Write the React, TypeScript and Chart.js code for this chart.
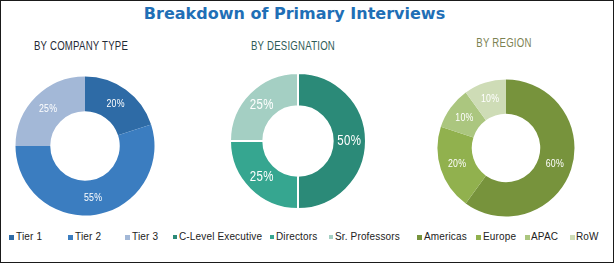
import React, { useEffect, useRef } from "react";
import { Chart, registerables } from "chart.js";

Chart.register(...registerables);

// ---- data ----
const titleText = "Breakdown of Primary Interviews";

const companyTitle = "BY COMPANY TYPE";
const companyLabels = ["Tier 1", "Tier 2", "Tier 3"];
const companyValues = [20, 55, 25];
const companyColors = ["#2e6ba6", "#3b7dc0", "#a3b8d7"];

const designationTitle = "BY DESIGNATION";
const designationLabels = ["C-Level Executive", "Directors", "Sr. Professors"];
const designationValues = [50, 25, 25];
const designationColors = ["#2b8a78", "#36a690", "#a4cfc3"];

const regionTitle = "BY REGION";
const regionLabels = ["Americas", "Europe", "APAC", "RoW"];
const regionValues = [60, 20, 10, 10];
const regionColors = ["#77933c", "#91b14e", "#abc67f", "#cedcb6"];

// ---- layout ----
const SANS = "'Liberation Sans', Arial, sans-serif";

const sliceLabelPlugin = {
  id: "sliceLabels",
  afterDatasetsDraw(chart: any, _args: any, opts: any) {
    const { ctx } = chart;
    const meta = chart.getDatasetMeta(0);
    const data = chart.data.datasets[0].data;
    meta.data.forEach((arc: any, i: number) => {
      const p = arc.tooltipPosition(false);
      ctx.save();
      ctx.fillStyle = "#ffffff";
      ctx.font = opts.font;
      if ("letterSpacing" in ctx) (ctx as any).letterSpacing = opts.letterSpacing || "0px";
      ctx.textAlign = "center";
      ctx.textBaseline = "middle";
      ctx.translate(p.x, p.y);
      ctx.scale(opts.scaleX || 1, 1);
      ctx.fillText(data[i] + "%", 0, 0);
      ctx.restore();
    });
  },
};

type DonutProps = {
  labels: string[];
  values: number[];
  colors: string[];
  cx: number;
  cy: number;
  r: number;
  cutout: string;
  borderWidth: number;
  labelFont: string;
  letterSpacing: string;
  scaleX: number;
};

function Donut(p: DonutProps) {
  const ref = useRef<HTMLCanvasElement>(null);
  const size = 2 * Math.ceil(p.r) + 6;
  useEffect(() => {
    if (!ref.current) return;
    const chart = new Chart(ref.current, {
      type: "doughnut",
      data: {
        labels: p.labels,
        datasets: [
          {
            data: p.values,
            backgroundColor: p.colors,
            borderColor: "#ffffff",
            borderWidth: p.borderWidth,
          },
        ],
      },
      options: {
        responsive: false,
        animation: false,
        radius: p.r,
        cutout: p.cutout,
        layout: { padding: 0 },
        plugins: {
          legend: { display: false },
          tooltip: { enabled: false },
          sliceLabels: { font: p.labelFont, letterSpacing: p.letterSpacing, scaleX: p.scaleX },
        } as any,
      } as any,
      plugins: [sliceLabelPlugin],
    });
    if ((document as any).fonts && (document as any).fonts.ready) {
      (document as any).fonts.ready.then(() => {
        try { chart.draw(); } catch (e) {}
      });
    }
    return () => chart.destroy();
  }, []);
  return (
    <canvas
      ref={ref}
      width={size}
      height={size}
      style={{
        position: "absolute",
        left: p.cx - size / 2,
        top: p.cy - size / 2,
        width: size,
        height: size,
      }}
    />
  );
}

const legendItems = [
  { label: companyLabels[0], color: companyColors[0], x: 9, sq: 5, gap: 7 },
  { label: companyLabels[1], color: companyColors[1], x: 68, sq: 5, gap: 7 },
  { label: companyLabels[2], color: companyColors[2], x: 125, sq: 5, gap: 7 },
  { label: designationLabels[0], color: designationColors[0], x: 173, sq: 4, gap: 6 },
  { label: designationLabels[1], color: designationColors[1], x: 270, sq: 4, gap: 6 },
  { label: designationLabels[2], color: designationColors[2], x: 329, sq: 4, gap: 6 },
  { label: regionLabels[0], color: regionColors[0], x: 417, sq: 5, gap: 7 },
  { label: regionLabels[1], color: regionColors[1], x: 476, sq: 5, gap: 7 },
  { label: regionLabels[2], color: regionColors[2], x: 525, sq: 5, gap: 6 },
  { label: regionLabels[3], color: regionColors[3], x: 570, sq: 5, gap: 6 },
];

export default function App() {
  const sub = (text: string, cx: number, top: number, color: string) => (
    <div
      style={{
        position: "absolute",
        left: cx,
        top,
        transform: "translateX(-50%) scaleX(0.8)",
        transformOrigin: "50% 50%",
        whiteSpace: "nowrap",
        font: `12px ${SANS}`,
        lineHeight: "12px",
        letterSpacing: "0.3px",
        color,
      }}
    >
      {text}
    </div>
  );
  return (
    <div
      style={{
        position: "absolute",
        left: 0,
        top: 0,
        width: 615,
        height: 265,
        background: "#ffffff",
        overflow: "hidden",
      }}
    >
      <div
        style={{
          position: "absolute",
          left: 0,
          top: 0,
          width: 614,
          height: 263,
          boxSizing: "border-box",
          border: "1px solid #1a1a1a",
        }}
      />
      <div
        style={{
          position: "absolute",
          left: 294.5,
          top: 6,
          transform: "translateX(-50%)",
          whiteSpace: "nowrap",
          font: "bold 16px 'DejaVu Sans', Verdana, sans-serif",
          lineHeight: "16px",
          color: "#1f6fb6",
        }}
      >
        {titleText}
      </div>
      {sub(companyTitle, 81, 40, "#1f2a36")}
      {sub(designationTitle, 293, 40, "#2d5b56")}
      {sub(regionTitle, 504, 37, "#7b8252")}

      <Donut
        labels={companyLabels}
        values={companyValues}
        colors={companyColors}
        cx={85}
        cy={146}
        r={69.5}
        cutout="50%"
        borderWidth={0}
        labelFont={`11px ${SANS}`}
        letterSpacing="0.3px"
        scaleX={0.8}
      />
      <Donut
        labels={designationLabels}
        values={designationValues}
        colors={designationColors}
        cx={298}
        cy={141}
        r={68}
        cutout="51%"
        borderWidth={2}
        labelFont={`14px ${SANS}`}
        letterSpacing="0.4px"
        scaleX={0.82}
      />
      <Donut
        labels={regionLabels}
        values={regionValues}
        colors={regionColors}
        cx={506}
        cy={148}
        r={68.5}
        cutout="50%"
        borderWidth={0}
        labelFont={`11px ${SANS}`}
        letterSpacing="0.3px"
        scaleX={0.8}
      />

      {legendItems.map((it, i) => (
        <React.Fragment key={i}>
          <div
            style={{
              position: "absolute",
              left: it.x,
              top: 237 - it.sq / 2,
              width: it.sq,
              height: it.sq,
              background: it.color,
            }}
          />
          <div
            style={{
              position: "absolute",
              left: it.x + it.gap,
              top: 232,
              whiteSpace: "nowrap",
              font: `10px ${SANS}`,
              lineHeight: "10px",
              letterSpacing: "0.15px",
              color: "#222222",
            }}
          >
            {it.label}
          </div>
        </React.Fragment>
      ))}
    </div>
  );
}
